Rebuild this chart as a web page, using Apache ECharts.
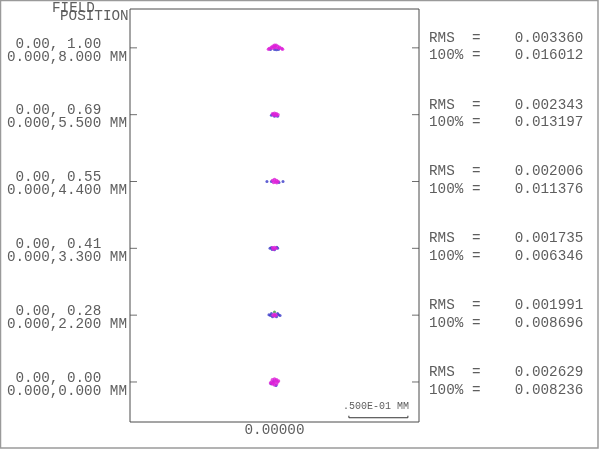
<!DOCTYPE html>
<html>
<head>
<meta charset="utf-8">
<script src="https://cdn.jsdelivr.net/npm/echarts@6/dist/echarts.min.js"></script>
<style>
html,body{margin:0;padding:0;background:#fff;}
#chart{width:600px;height:450px;}
</style>
</head>
<body>
<div id="chart"></div>
<script>
// Field positions (index 0 = on-axis, bottom row)
const FIELD_REL = ['0.00, 0.00', '0.00, 0.28', '0.00, 0.41', '0.00, 0.55', '0.00, 0.69', '0.00, 1.00'];
const FIELD_MM  = ['0.000,0.000 MM', '0.000,2.200 MM', '0.000,3.300 MM', '0.000,4.400 MM', '0.000,5.500 MM', '0.000,8.000 MM'];
const RMS  = ['0.002629', '0.001991', '0.001735', '0.002006', '0.002343', '0.003360'];
const P100 = ['0.008236', '0.008696', '0.006346', '0.011376', '0.013197', '0.016012'];
const X_TICK_LABEL = '0.00000';
const SCALE_TEXT = '.500E-01 MM';

// spot points: [field index, dx (µm), dy (µm)] per wavelength
const SPOTS_BLUE = [
  [5,-3.4,-1.3],[5,0,-1.3],[5,3.4,-1.3],[5,1.7,-1.7],
  [4,-2.6,-0.4],[4,0,-1.3],[4,2.6,-1.3],[4,-1.3,0.4],
  [3,-6.4,0],[3,7.2,0],[3,-2.6,0],[3,3.8,-0.8],
  [2,-3.8,0],[2,-2.6,0.8],[2,2.6,0],[2,0,-1.3],[2,-2,-1],[2,2,1],
  [1,-4.7,0.4],[1,-3.4,-0.4],[1,3.4,0.4],[1,4.7,-0.4],[1,-2.6,1.3],[1,2.6,1.3],[1,-1.7,-1.3],[1,1.7,-1.3],
  [0,-3,-1.5],[0,1.3,-3],[0,-1,0.5]
];
const SPOTS_GREEN = [
  [1,0,2.6],[1,0.4,-0.4]
];
const SPOTS_MAGENTA = [
  [5,-5.1,-1.2],[5,-4.3,-0.6],[5,-2.6,0.4],[5,-1.3,1.3],[5,0,2.1],[5,1.3,2.1],[5,2.6,1.3],[5,4.3,0.4],[5,6,-0.6],[5,6.8,-1.2],[5,-1.7,-0.4],[5,0.8,0],[5,3.4,-0.4],[5,0,0.8],
  [4,-1.7,0.8],[4,0,1.3],[4,1.7,0.8],[4,3,0],[4,0.8,0],[4,-0.8,-0.4],[4,1.7,-0.8],
  [3,-1.7,0.8],[3,0,1.7],[3,1.7,0.8],[3,3,0],[3,0.8,-0.4],[3,-0.8,-0.8],[3,2,-1],
  [2,-1.7,0.4],[2,0,0.8],[2,1.3,0],[2,-0.8,-0.8],
  [1,-1.3,0],[1,0,0.8],[1,1.3,0],[1,0,-0.8],
  [0,0,0],[0,2.6,0],[0,-2.6,0],[0,0,2.6],[0,0,-2.6],[0,1.8,1.8],[0,-1.8,1.8],[0,1.8,-1.8],[0,-1.8,-1.8],[0,3.4,0.8],[0,-3.4,-0.8],[0,1,1],[0,-1,-1]
];
// scale bar: 50 µm (= .500E-01 MM)
const SCALE_BAR = [[63,-28.6],[63,-30.3],[113,-30.3],[113,-28.6]];

const SPACING = 56.6;   // display spacing between field rows (µm)
const X_MIN = -122.4, X_MAX = 122.4;
const Y_MIN = -33.9, Y_MAX = 315.9;
const FIELD_CENTERS = FIELD_REL.map((_, i) => i * SPACING);

const FONT = 'Liberation Mono';
const FS = 14.3;
const TXT = '#5e5e5e';
const LINE = '#4a4a4a';

function toXY(arr){ return arr.map(p => [p[1], p[0]*SPACING + p[2]]); }
function idx(v){ return Math.round(v / SPACING); }

const chart = echarts.init(document.getElementById('chart'), null, {renderer:'canvas'});
chart.setOption({
  animation:false,
  backgroundColor:'#fff',
  graphic:[
    {type:'rect', shape:{x:0.5,y:0.5,width:597.5,height:447.5}, style:{fill:'none', stroke:'#9a9a9a', lineWidth:1.5}, silent:true},
    {type:'text', left:52, top:1, style:{text:'FIELD', font:FS+'px "'+FONT+'"', fill:TXT}},
    {type:'text', left:60, top:9, style:{text:'POSITION', font:FS+'px "'+FONT+'"', fill:TXT}},
    {type:'text', left:343, top:401, style:{text:SCALE_TEXT, font:'10px "'+FONT+'"', fill:TXT}}
  ],
  grid:{left:130, top:9, width:289, height:413, show:true, borderColor:LINE, borderWidth:1, backgroundColor:'transparent'},
  xAxis:{
    type:'value', min:X_MIN, max:X_MAX,
    axisLine:{show:false}, splitLine:{show:false}, axisTick:{show:false},
    axisLabel:{customValues:[0], formatter:()=>X_TICK_LABEL, color:TXT, fontFamily:FONT, fontSize:FS, margin:1}
  },
  yAxis:[
    {
      type:'value', min:Y_MIN, max:Y_MAX, position:'left',
      axisLine:{show:false}, splitLine:{show:false}, axisTick:{show:false},
      axisLabel:{
        customValues:FIELD_CENTERS, margin:3, align:'right', padding:[5,0,0,0],
        formatter:(v)=>{const i=idx(v); return '{a|'+FIELD_REL[i]+'   }\n{a|'+FIELD_MM[i]+'}';},
        rich:{a:{fontFamily:FONT, fontSize:FS, color:TXT, lineHeight:13}}
      }
    },
    {
      type:'value', min:Y_MIN, max:Y_MAX, position:'right',
      axisLine:{show:false}, splitLine:{show:false}, axisTick:{show:false},
      axisLabel:{
        customValues:FIELD_CENTERS, margin:10, align:'left', padding:[0,0,2,0],
        formatter:(v)=>{const i=idx(v); return '{a|RMS  =    '+RMS[i]+'}\n{a|100% =    '+P100[i]+'}';},
        rich:{a:{fontFamily:FONT, fontSize:FS, color:TXT, lineHeight:17.6}}
      }
    }
  ],
  series:[
    // row ticks on both frame sides, placed through the axes at each field centre
    {type:'scatter', name:'tickL', data:FIELD_CENTERS.map(c=>[X_MIN,c]), symbol:'rect', symbolSize:[7,1], symbolOffset:[3.5,0], itemStyle:{color:LINE}, silent:true},
    {type:'scatter', name:'tickR', data:FIELD_CENTERS.map(c=>[X_MAX,c]), symbol:'rect', symbolSize:[7,1], symbolOffset:[-3.5,0], itemStyle:{color:LINE}, silent:true},
    {type:'scatter', name:'blue', data:toXY(SPOTS_BLUE), symbolSize:3, itemStyle:{color:'#3838c8'}, silent:true},
    {type:'scatter', name:'green', data:toXY(SPOTS_GREEN), symbolSize:3, itemStyle:{color:'#2e9e3a'}, silent:true},
    {type:'scatter', name:'magenta', data:toXY(SPOTS_MAGENTA), symbolSize:3.5, itemStyle:{color:'#dd1fd8'}, silent:true},
    {type:'line', name:'scale', data:SCALE_BAR, symbol:'none', lineStyle:{color:'#333', width:1}, silent:true}
  ]
});
</script>
</body>
</html>
